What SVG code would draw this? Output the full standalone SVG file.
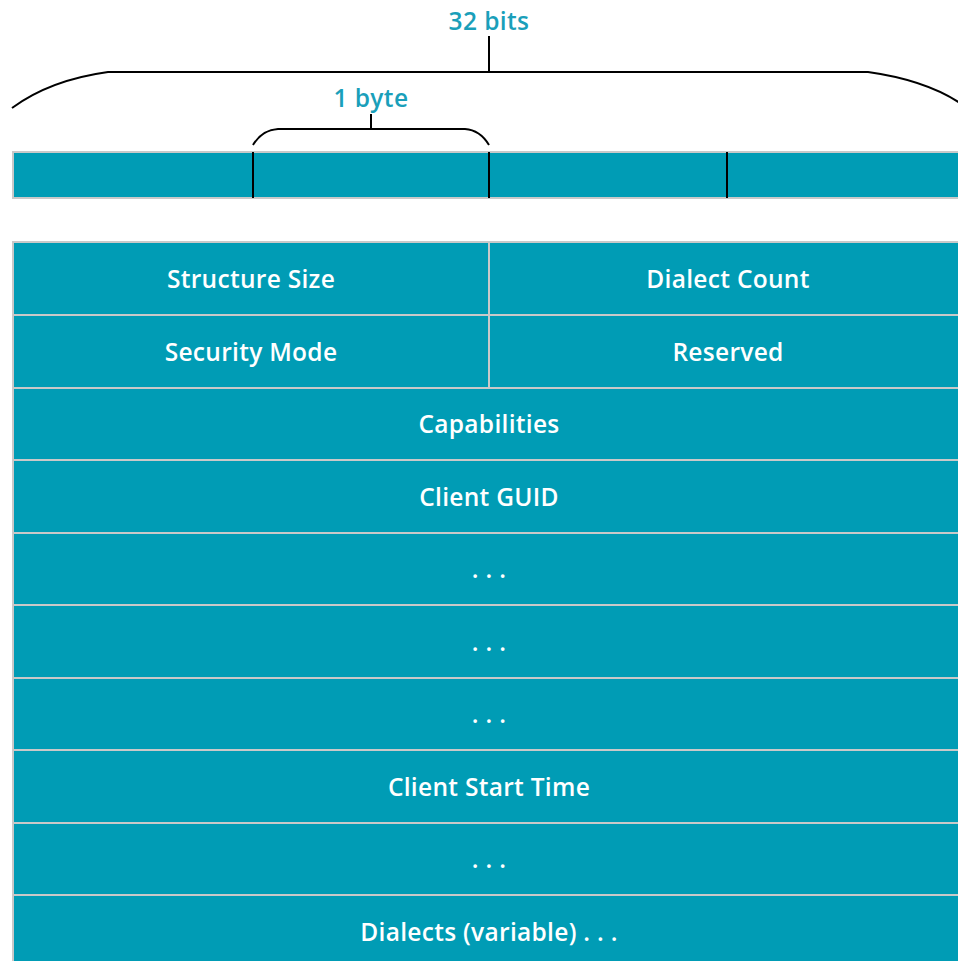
<svg xmlns="http://www.w3.org/2000/svg" width="958" height="961" viewBox="0 0 958 961">
<style>
.cell{fill:#009cb5;stroke:#c9c9c9;stroke-width:2}
.t{font-family:"Open Sans","Noto Sans",sans-serif;font-size:24.5px;font-weight:600;letter-spacing:0.3px;fill:#ffffff;text-anchor:middle}
.lbl{font-family:"Open Sans","Noto Sans",sans-serif;font-size:24.5px;font-weight:600;letter-spacing:0.4px;fill:#1a9fba;text-anchor:middle}
.br{fill:none;stroke:#000;stroke-width:2}
</style>
<rect width="958" height="961" fill="#fff"/>
<g id="bracket-32">
<text class="lbl" x="489" y="30">32 bits</text>
<path class="br" d="M12,108 Q50,80 108,72 L868,72 Q925,80 960,103"/>
<line class="br" x1="489" y1="36" x2="489" y2="72"/>
</g>
<g id="bracket-byte">
<text class="lbl" x="371" y="107">1 byte</text>
<path class="br" d="M253,145 Q262,130 278,129 L465,129 Q480,130 489,145"/>
<line class="br" x1="371" y1="114" x2="371" y2="129"/>
</g>
<g id="word-bar">
<rect class="cell" x="13" y="152" width="960" height="46"/>
<line class="br" x1="253" y1="152" x2="253" y2="198"/>
<line class="br" x1="489" y1="152" x2="489" y2="198"/>
<line class="br" x1="727" y1="152" x2="727" y2="198"/>
</g>
<g id="structure-size"><rect class="cell" x="13" y="242" width="476" height="73"/><text class="t" x="251" y="288">Structure Size</text></g>
<g id="dialect-count"><rect class="cell" x="489" y="242" width="480" height="73"/><text class="t" x="728" y="288">Dialect Count</text></g>
<g id="security-mode"><rect class="cell" x="13" y="315" width="476" height="73"/><text class="t" x="251" y="361">Security Mode</text></g>
<g id="reserved"><rect class="cell" x="489" y="315" width="480" height="73"/><text class="t" x="728" y="361">Reserved</text></g>
<g id="capabilities"><rect class="cell" x="13" y="388" width="956" height="72"/><text class="t" x="489" y="433">Capabilities</text></g>
<g id="client-guid"><rect class="cell" x="13" y="460" width="956" height="73"/><text class="t" x="489" y="506">Client GUID</text></g>
<g id="guid-2"><rect class="cell" x="13" y="533" width="956" height="72"/><text class="t" x="489" y="578">. . .</text></g>
<g id="guid-3"><rect class="cell" x="13" y="605" width="956" height="73"/><text class="t" x="489" y="651">. . .</text></g>
<g id="guid-4"><rect class="cell" x="13" y="678" width="956" height="72"/><text class="t" x="489" y="723">. . .</text></g>
<g id="client-start-time"><rect class="cell" x="13" y="750" width="956" height="73"/><text class="t" x="489" y="796">Client Start Time</text></g>
<g id="start-time-2"><rect class="cell" x="13" y="823" width="956" height="72"/><text class="t" x="489" y="868">. . .</text></g>
<g id="dialects"><rect class="cell" x="13" y="895" width="956" height="80"/><text class="t" x="489" y="941">Dialects (variable) . . .</text></g>
</svg>
